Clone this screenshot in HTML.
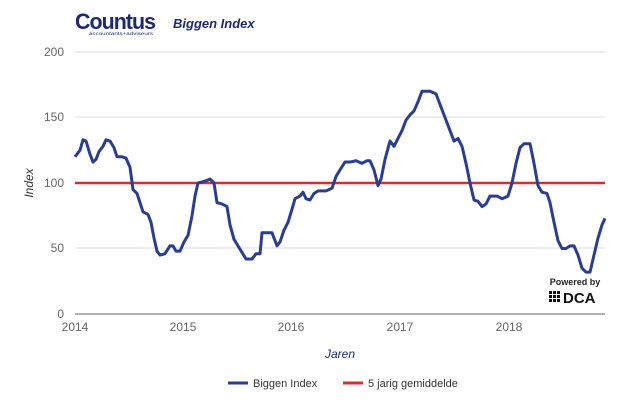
<!DOCTYPE html>
<html><head><meta charset="utf-8"><style>
body{margin:0;background:#fff;width:625px;height:400px;overflow:hidden;font-family:"Liberation Sans",sans-serif}
</style></head><body>
<svg width="625" height="400" xmlns="http://www.w3.org/2000/svg" font-family="Liberation Sans, sans-serif">
<text x="75" y="29" font-size="22" font-weight="bold" fill="#1d2a6b" letter-spacing="-1" textLength="80" lengthAdjust="spacingAndGlyphs">Countus</text>
<text x="89" y="35" font-size="4.5" fill="#1d2a6b" textLength="64" lengthAdjust="spacingAndGlyphs">accountants+adviseurs</text>
<text x="173" y="28" font-size="13" font-weight="bold" font-style="italic" fill="#1d2a6b">Biggen Index</text>
<g stroke="#ddd" stroke-width="1">
<line x1="75" x2="605" y1="52" y2="52"/><line x1="75" x2="605" y1="117" y2="117"/><line x1="75" x2="605" y1="183" y2="183"/><line x1="75" x2="605" y1="248" y2="248"/>
</g>
<line x1="75" x2="605" y1="314" y2="314" stroke="#999" stroke-width="1.5"/>
<g font-size="12" fill="#666" text-anchor="end">
<text x="64" y="56">200</text><text x="64" y="121">150</text><text x="64" y="187">100</text><text x="64" y="252">50</text><text x="64" y="318">0</text>
</g>
<g font-size="12" fill="#666" text-anchor="middle">
<text x="75" y="331">2014</text><text x="183" y="331">2015</text><text x="291" y="331">2016</text><text x="400" y="331">2017</text><text x="509" y="331">2018</text>
</g>
<text x="340" y="358" font-size="12" font-style="italic" fill="#1d2a6b" text-anchor="middle">Jaren</text>
<text transform="translate(33,183) rotate(-90)" font-size="12" font-style="italic" fill="#333" text-anchor="middle">Index</text>
<line x1="75" x2="605" y1="183" y2="183" stroke="#d32f2f" stroke-width="2.5"/>
<g transform="translate(0,314) scale(1,-1.31)">
<polyline fill="none" stroke="#2b3d8f" stroke-width="3" vector-effect="non-scaling-stroke" stroke-linejoin="round" points="75,120 80,125 83,133 86,132 90,122 93,116 96,118 99,124 103,128 106,133 110,132 114,127 117,120 122,120 126,119 130,112 133,95 137,92 140,85 143,78 148,76 151,70 154,58 157,48 160,45 165,46 170,52 173,52 176,48 180,48 184,55 188,60 192,75 195,90 198,100 203,101 207,102 210,103 214,100 217,85 222,84 227,82 230,68 234,57 238,52 242,47 246,42 252,42 256,46 260,46 262,62 267,62 272,62 274,58 277,52 280,55 284,64 288,70 292,80 295,88 300,90 303,93 306,88 310,87 314,92 318,94 326,94 332,96 336,105 340,110 345,116 350,116 356,117 362,115 367,117 370,117 374,110 378,98 381,103 385,118 390,132 394,128 398,134 402,140 406,148 410,152 414,155 418,162 422,170 430,170 436,168 440,160 445,150 450,140 454,132 458,134 462,128 466,115 470,100 474,87 478,86 482,82 486,84 490,90 497,90 502,88 508,90 512,100 516,115 520,127 524,130 530,130 534,115 538,98 542,93 547,92 550,85 554,70 558,56 562,50 566,50 570,52 574,52 578,45 582,35 586,32 590,32 594,45 598,58 602,68 605,73"/>
</g>
<text x="575" y="285" font-size="9" font-weight="bold" fill="#222" text-anchor="middle">Powered by</text>
<g fill="#111">
<rect x="549" y="291" width="3" height="3"/><rect x="553" y="291" width="3" height="3"/><rect x="557" y="291" width="3" height="3"/>
<rect x="549" y="295" width="3" height="3"/><rect x="553" y="295" width="3" height="3"/><rect x="557" y="295" width="3" height="3"/>
<rect x="549" y="299" width="3" height="3"/><rect x="553" y="299" width="3" height="3"/><rect x="557" y="299" width="3" height="3"/>
</g>
<text x="563" y="303" font-size="15" font-weight="bold" fill="#111">DCA</text>
<line x1="228" x2="248" y1="383" y2="383" stroke="#2b3d8f" stroke-width="3"/>
<text x="253" y="387" font-size="11" fill="#333">Biggen Index</text>
<line x1="343" x2="363" y1="383" y2="383" stroke="#d32f2f" stroke-width="3"/>
<text x="368" y="387" font-size="11" fill="#333">5 jarig gemiddelde</text>
</svg>
</body></html>
